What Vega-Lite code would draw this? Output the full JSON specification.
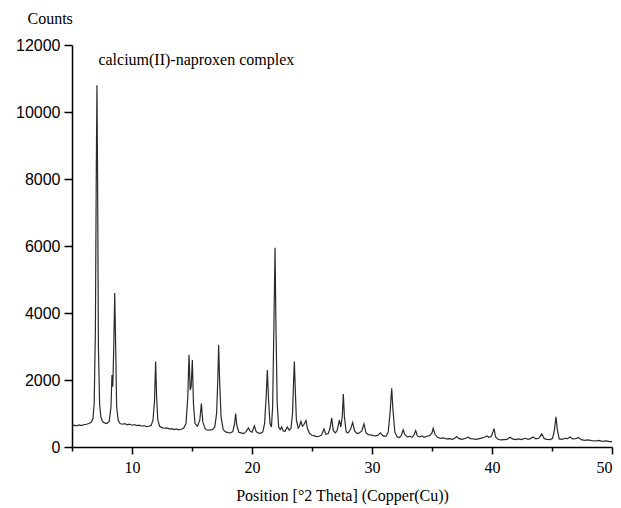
{
  "$schema": "https://vega.github.io/schema/vega-lite/v6.json",
  "width": 540,
  "height": 402,
  "autosize": "none",
  "padding": {"left": 72, "top": 45, "right": 9, "bottom": 61},
  "background": "white",
  "config": {"view": {"stroke": null}},
  "layer": [
    {
      "data": {"values": [
        {"x":5.0,"y":620},{"x":5.2,"y":650},{"x":5.4,"y":630},{"x":5.6,"y":660},{"x":5.8,"y":640},{"x":6.0,"y":670},{"x":6.2,"y":680},{"x":6.4,"y":700},{"x":6.6,"y":740},{"x":6.75,"y":850},{"x":6.85,"y":1300},{"x":6.95,"y":3500},{"x":7.02,"y":8000},{"x":7.08,"y":10800},{"x":7.14,"y":7500},{"x":7.2,"y":3000},{"x":7.3,"y":1300},{"x":7.4,"y":900},{"x":7.55,"y":760},{"x":7.7,"y":720},{"x":7.9,"y":700},{"x":8.1,"y":760},{"x":8.25,"y":1200},{"x":8.33,"y":2150},{"x":8.4,"y":1800},{"x":8.48,"y":3000},{"x":8.56,"y":4600},{"x":8.64,"y":3000},{"x":8.72,"y":1200},{"x":8.85,"y":800},{"x":9.0,"y":700},{"x":9.2,"y":680},{"x":9.4,"y":700},{"x":9.6,"y":660},{"x":9.8,"y":680},{"x":10.0,"y":650},{"x":10.2,"y":670},{"x":10.4,"y":640},{"x":10.6,"y":650},{"x":10.8,"y":620},{"x":11.0,"y":640},{"x":11.2,"y":610},{"x":11.4,"y":620},{"x":11.6,"y":650},{"x":11.75,"y":800},{"x":11.88,"y":1400},{"x":11.97,"y":2550},{"x":12.05,"y":1500},{"x":12.15,"y":800},{"x":12.3,"y":620},{"x":12.5,"y":580},{"x":12.7,"y":560},{"x":12.9,"y":570},{"x":13.1,"y":540},{"x":13.3,"y":550},{"x":13.5,"y":520},{"x":13.7,"y":540},{"x":13.9,"y":510},{"x":14.1,"y":530},{"x":14.3,"y":560},{"x":14.5,"y":700},{"x":14.65,"y":1500},{"x":14.75,"y":2750},{"x":14.85,"y":1700},{"x":14.93,"y":1800},{"x":15.03,"y":2600},{"x":15.12,"y":1300},{"x":15.25,"y":700},{"x":15.45,"y":620},{"x":15.65,"y":800},{"x":15.78,"y":1300},{"x":15.9,"y":750},{"x":16.1,"y":540},{"x":16.3,"y":500},{"x":16.5,"y":510},{"x":16.7,"y":520},{"x":16.9,"y":600},{"x":17.05,"y":1000},{"x":17.15,"y":2000},{"x":17.22,"y":3050},{"x":17.3,"y":2000},{"x":17.42,"y":900},{"x":17.6,"y":520},{"x":17.8,"y":450},{"x":18.0,"y":430},{"x":18.2,"y":420},{"x":18.4,"y":460},{"x":18.55,"y":700},{"x":18.64,"y":1000},{"x":18.73,"y":650},{"x":18.9,"y":440},{"x":19.1,"y":420},{"x":19.3,"y":400},{"x":19.5,"y":460},{"x":19.7,"y":570},{"x":19.85,"y":470},{"x":20.0,"y":440},{"x":20.2,"y":630},{"x":20.35,"y":460},{"x":20.5,"y":420},{"x":20.7,"y":410},{"x":20.9,"y":450},{"x":21.05,"y":700},{"x":21.18,"y":1500},{"x":21.28,"y":2300},{"x":21.38,"y":1400},{"x":21.5,"y":700},{"x":21.62,"y":600},{"x":21.72,"y":1200},{"x":21.82,"y":3500},{"x":21.92,"y":5950},{"x":22.0,"y":3500},{"x":22.1,"y":1300},{"x":22.22,"y":600},{"x":22.35,"y":520},{"x":22.47,"y":600},{"x":22.6,"y":480},{"x":22.75,"y":470},{"x":22.94,"y":600},{"x":23.1,"y":500},{"x":23.25,"y":560},{"x":23.38,"y":1000},{"x":23.47,"y":2000},{"x":23.53,"y":2550},{"x":23.6,"y":1800},{"x":23.7,"y":800},{"x":23.85,"y":560},{"x":23.95,"y":620},{"x":24.08,"y":760},{"x":24.2,"y":620},{"x":24.3,"y":650},{"x":24.5,"y":790},{"x":24.62,"y":550},{"x":24.8,"y":400},{"x":25.0,"y":350},{"x":25.2,"y":330},{"x":25.4,"y":310},{"x":25.6,"y":320},{"x":25.8,"y":360},{"x":26.0,"y":540},{"x":26.15,"y":380},{"x":26.35,"y":400},{"x":26.5,"y":560},{"x":26.64,"y":870},{"x":26.78,"y":480},{"x":26.95,"y":420},{"x":27.1,"y":500},{"x":27.28,"y":800},{"x":27.4,"y":600},{"x":27.52,"y":900},{"x":27.61,"y":1580},{"x":27.7,"y":900},{"x":27.85,"y":450},{"x":28.0,"y":420},{"x":28.2,"y":520},{"x":28.39,"y":730},{"x":28.55,"y":480},{"x":28.75,"y":400},{"x":28.95,"y":420},{"x":29.15,"y":480},{"x":29.33,"y":690},{"x":29.5,"y":420},{"x":29.7,"y":370},{"x":29.9,"y":360},{"x":30.1,"y":340},{"x":30.3,"y":330},{"x":30.5,"y":350},{"x":30.7,"y":420},{"x":30.85,"y":360},{"x":31.0,"y":320},{"x":31.2,"y":330},{"x":31.35,"y":450},{"x":31.5,"y":1000},{"x":31.64,"y":1750},{"x":31.75,"y":1100},{"x":31.9,"y":450},{"x":32.1,"y":300},{"x":32.3,"y":280},{"x":32.45,"y":350},{"x":32.6,"y":510},{"x":32.75,"y":360},{"x":32.95,"y":300},{"x":33.15,"y":320},{"x":33.35,"y":290},{"x":33.5,"y":360},{"x":33.64,"y":490},{"x":33.78,"y":330},{"x":33.95,"y":300},{"x":34.15,"y":330},{"x":34.35,"y":290},{"x":34.55,"y":320},{"x":34.8,"y":340},{"x":35.0,"y":420},{"x":35.1,"y":560},{"x":35.25,"y":380},{"x":35.45,"y":290},{"x":35.7,"y":260},{"x":35.95,"y":270},{"x":36.2,"y":240},{"x":36.45,"y":250},{"x":36.7,"y":230},{"x":36.9,"y":260},{"x":37.06,"y":310},{"x":37.25,"y":250},{"x":37.5,"y":230},{"x":37.8,"y":260},{"x":38.0,"y":290},{"x":38.2,"y":250},{"x":38.45,"y":240},{"x":38.7,"y":230},{"x":38.95,"y":250},{"x":39.2,"y":270},{"x":39.4,"y":300},{"x":39.56,"y":330},{"x":39.75,"y":290},{"x":39.95,"y":320},{"x":40.08,"y":450},{"x":40.17,"y":550},{"x":40.3,"y":300},{"x":40.5,"y":230},{"x":40.75,"y":210},{"x":41.0,"y":220},{"x":41.25,"y":230},{"x":41.5,"y":290},{"x":41.7,"y":240},{"x":41.95,"y":220},{"x":42.2,"y":240},{"x":42.45,"y":220},{"x":42.75,"y":260},{"x":43.0,"y":230},{"x":43.2,"y":250},{"x":43.44,"y":300},{"x":43.65,"y":240},{"x":43.9,"y":260},{"x":44.14,"y":390},{"x":44.35,"y":250},{"x":44.6,"y":230},{"x":44.85,"y":220},{"x":45.05,"y":260},{"x":45.2,"y":500},{"x":45.33,"y":900},{"x":45.45,"y":500},{"x":45.6,"y":240},{"x":45.85,"y":230},{"x":46.1,"y":260},{"x":46.3,"y":250},{"x":46.5,"y":300},{"x":46.7,"y":240},{"x":46.95,"y":250},{"x":47.2,"y":280},{"x":47.45,"y":220},{"x":47.7,"y":200},{"x":48.0,"y":210},{"x":48.3,"y":190},{"x":48.6,"y":180},{"x":48.9,"y":200},{"x":49.2,"y":170},{"x":49.5,"y":180},{"x":49.8,"y":160},{"x":50.0,"y":160}
      ]},
      "mark": {"type": "line", "color": "#2a2a2a", "strokeWidth": 1.2, "clip": true},
      "encoding": {
        "x": {
          "field": "x", "type": "quantitative",
          "scale": {"domain": [5, 50], "nice": false, "zero": false},
          "axis": {
            "values": [5, 10, 15, 20, 25, 30, 35, 40, 45, 50],
            "labelExpr": "datum.value % 10 === 0 ? datum.label : ''",
            "tickSize": {"condition": {"test": "datum.value % 10 === 0", "value": 7}, "value": 4},
            "grid": false,
            "domainColor": "black", "domainWidth": 1.5,
            "tickColor": "black", "tickWidth": 1.5,
            "labelFont": "Liberation Serif", "labelFontSize": 16, "labelColor": "black", "labelPadding": 5,
            "title": "Position [°2 Theta] (Copper(Cu))",
            "titleFont": "Liberation Serif", "titleFontSize": 16, "titleFontWeight": "normal", "titleColor": "black",
            "titlePadding": 12
          }
        },
        "y": {
          "field": "y", "type": "quantitative",
          "scale": {"domain": [0, 12000], "nice": false},
          "axis": {
            "values": [0, 1000, 2000, 3000, 4000, 5000, 6000, 7000, 8000, 9000, 10000, 11000, 12000],
            "format": "d",
            "labelExpr": "datum.value % 2000 === 0 ? datum.label : ''",
            "tickSize": {"condition": {"test": "datum.value % 2000 === 0", "value": 8}, "value": 4},
            "grid": false,
            "domainColor": "black", "domainWidth": 1.5,
            "tickColor": "black", "tickWidth": 1.5,
            "labelFont": "Liberation Sans", "labelFontSize": 16, "labelColor": "black", "labelPadding": 4,
            "title": "Counts",
            "titleAngle": 0, "titleAlign": "left", "titleBaseline": "middle",
            "titleX": -45, "titleY": -27,
            "titleFont": "Liberation Serif", "titleFontSize": 16, "titleFontWeight": "normal", "titleColor": "black"
          }
        }
      }
    },
    {
      "data": {"values": [{"x": 7.2, "y": 11550, "label": "calcium(II)-naproxen complex"}]},
      "mark": {"type": "text", "font": "Liberation Serif", "fontSize": 16, "align": "left", "baseline": "middle", "color": "black"},
      "encoding": {
        "x": {"field": "x", "type": "quantitative"},
        "y": {"field": "y", "type": "quantitative"},
        "text": {"field": "label"}
      }
    }
  ]
}
